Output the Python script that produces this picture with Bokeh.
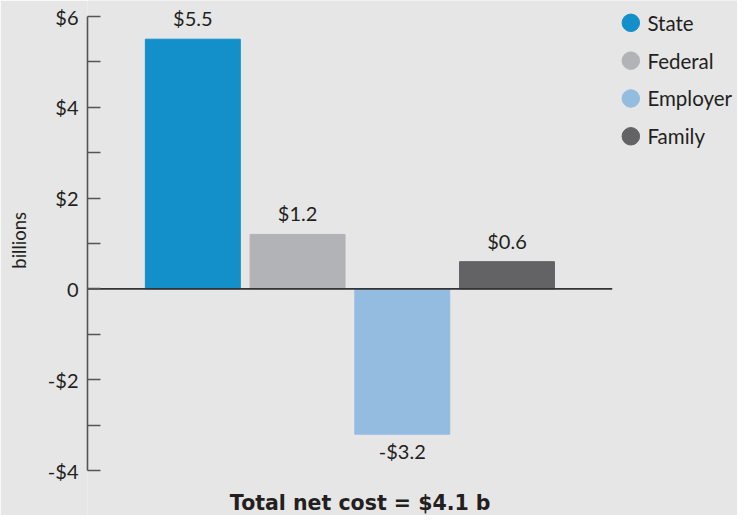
from bokeh.plotting import figure
from bokeh.models import Range1d, FixedTicker, ColumnDataSource, Title
from bokeh.core.properties import value
from bokeh.embed import file_html
from bokeh.resources import INLINE

categories = ["State", "Federal", "Employer", "Family"]
values = [5.5, 1.2, -3.2, 0.6]
value_labels = ["$5.5", "$1.2", "-$3.2", "$0.6"]
colors = ["#138fca", "#b2b3b6", "#93bce0", "#636365"]
major_ticks = [-4, -2, 0, 2, 4, 6]
minor_ticks = [-3, -1, 1, 3, 5]
tick_labels = ["-$4", "-$2", "0", "$2", "$4", "$6"]
total_label = "Total net cost = $4.1 b"
y_label = "billions"

FONT = "Lato"
BG = "#e6e6e6"
TXT = "#231f20"

W, H = 737, 515
SX, SY = W / 753.0, H / 531.0
left = 87
axis_top = 16
axis_bottom = 470
unit = 107 * SX
x0 = -(196.5 * SX - left) / unit
x1 = x0 + (W - left) / unit
ppu = (axis_bottom - axis_top) / 10.0
y_start = -4 - (H - axis_bottom) / ppu
y_end = 6 + axis_top / ppu


def px_to_x(px):
    return x0 + (px * SX - left) / unit


def py_to_y(py):
    return 6 - (py * SY - axis_top) / ppu


p = figure(width=W, height=H, output_backend="svg", toolbar_location=None,
           x_range=Range1d(x0, x1), y_range=Range1d(y_start, y_end),
           x_axis_location=None, min_border_left=left, min_border_right=0,
           min_border_top=0, min_border_bottom=0)
p.background_fill_color = BG
p.border_fill_color = BG
p.outline_line_color = None
p.grid.visible = False

xs = list(range(len(categories)))
src = ColumnDataSource(dict(x=xs, top=values, color=colors, label=value_labels))
p.vbar(x="x", top="top", bottom=0, width=97 / 107.0, color="color", source=src)

# zero line
p.segment(x0=[x0], y0=[0], x1=[px_to_x(625)], y1=[0], line_color="#333333", line_width=1.6)

# value labels
pos = [i for i, v in enumerate(values) if v >= 0]
neg = [i for i, v in enumerate(values) if v < 0]
p.text(x=[xs[i] for i in pos], y=[values[i] for i in pos], text=[value_labels[i] for i in pos],
       text_align="center", text_baseline="alphabetic", y_offset=-21,
       text_font=value(FONT), text_font_size="20px", text_color=TXT)
p.text(x=[xs[i] for i in neg], y=[values[i] for i in neg], text=[value_labels[i] for i in neg],
       text_align="center", text_baseline="top", y_offset=5,
       text_font=value(FONT), text_font_size="20px", text_color=TXT)

# legend
ly = [py_to_y(py) for py in (23, 62, 101, 140)]
p.scatter(x=[px_to_x(644)] * 4, y=ly, size=17.5, color=colors)
p.text(x=[px_to_x(661)] * 4, y=ly, text=categories, text_baseline="middle", text_align="left",
       text_font=value(FONT), text_font_size="20.5px", text_color=TXT)

# bottom caption
p.text(x=[px_to_x(367.5)], y=[py_to_y(518)], text=[total_label],
       text_align="center", text_baseline="middle",
       text_font=value("DejaVu Sans"), text_font_size="20.5px", text_font_style="bold",
       text_color=TXT)

# y axis
ax = p.yaxis[0]
ax.bounds = (-4, 6)
ax.ticker = FixedTicker(ticks=major_ticks, minor_ticks=minor_ticks)
ax.major_label_overrides = {t: l for t, l in zip(major_ticks, tick_labels)}
ax.axis_line_color = "#555555"
ax.axis_line_width = 1.6
ax.major_tick_line_color = "#555555"
ax.minor_tick_line_color = "#555555"
ax.major_tick_line_width = 1.4
ax.minor_tick_line_width = 1.4
ax.major_tick_in = 13
ax.major_tick_out = 0
ax.minor_tick_in = 13
ax.minor_tick_out = 0
ax.major_label_standoff = 9
ax.major_label_text_font = FONT
ax.major_label_text_font_size = "20px"
ax.major_label_text_color = TXT

# spacer panel between the axis and the rotated axis title
p.add_layout(Title(text="\u00a0", standoff=8, text_font=FONT, text_font_size="1px",
                   text_color=BG), "left")
p.add_layout(Title(text=y_label, align="right", offset=218 * SY, vertical_align="bottom",
                   standoff=8, text_font=FONT, text_font_size="18.5px",
                   text_font_style="normal", text_color=TXT), "left")

html = file_html(p, INLINE)
html = html.replace("<body>", '<body style="background:%s">' % BG, 1)
open("out.html", "w").write(html)
